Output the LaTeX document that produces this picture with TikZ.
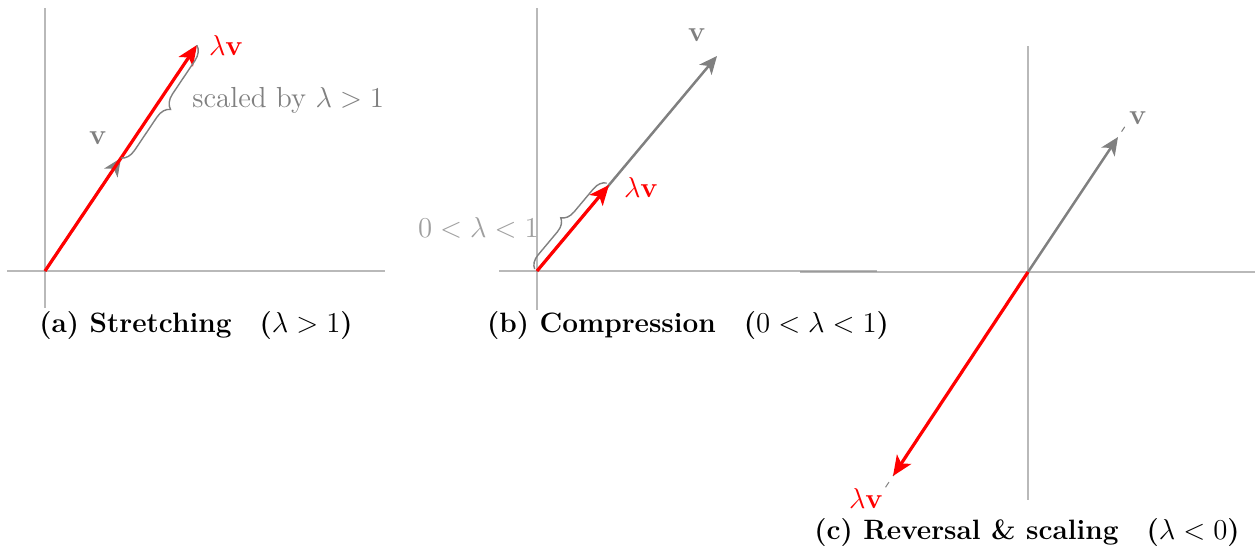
\documentclass[tikz,border=0pt]{standalone}
\usetikzlibrary{arrows.meta,decorations.pathreplacing,calc}
\begin{document}
\begin{tikzpicture}[x=0.5pt,y=-0.5pt,
  axis/.style={draw=gray,opacity=0.55,line width=0.7pt},
  redvec/.style={draw=red,line width=1.6pt,-{Stealth[length=10pt,width=8.5pt,inset=2.5pt]}},
  grayvec/.style={draw=gray,line width=1.25pt,-{Stealth[length=9pt,width=8pt,inset=2.5pt]}},
  bracestyle/.style={draw=gray,line width=0.7pt,decorate,decoration={brace,amplitude=6pt}},
  lbl/.style={font=\fontsize{14.5}{17}\selectfont,inner sep=1pt},
  captext/.style={font=\fontsize{14}{17}\selectfont\bfseries,inner sep=1pt}]
\useasboundingbox (0,0) rectangle (1255,553);
% ---------- (a)
\coordinate (Oa) at (45,271);
\coordinate (va) at (121,158);
\coordinate (la) at (197,45);
\coordinate (axL) at (7,271); \coordinate (axR) at (385,271);
\coordinate (ayT) at (45,8); \coordinate (ayB) at (45,308);
\draw[axis] (axL) -- (axR);
\draw[axis] (ayT) -- (ayB);
\draw[grayvec] (Oa) -- (va);
\draw[redvec] (Oa) -- (la);
\draw[bracestyle,decoration={mirror,amplitude=7pt}] (va) -- (la);
\node[lbl,text=gray] (tva) at (98,138) {$\mathbf{v}$};
\node[lbl,text=red] (tla) at (226,45) {$\lambda\mathbf{v}$};
\node[lbl,text=gray,anchor=west] (tsa) at (190,100) {scaled by $\lambda>1$};
\node[captext] (capa) at (196,326) {(a) Stretching\quad ($\lambda>1$)};
% ---------- (b)
\coordinate (Ob) at (537,271);
\coordinate (vb) at (717,56);
\coordinate (lb) at (609,185);
\coordinate (bxL) at (499,271); \coordinate (bxR) at (877,271);
\coordinate (byT) at (537,8); \coordinate (byB) at (537,310);
\draw[axis] (bxL) -- (bxR);
\draw[axis] (byT) -- (byB);
\draw[grayvec] (Ob) -- (vb);
\draw[redvec] (Ob) -- (lb);
\draw[bracestyle,decoration={raise=1.5pt,amplitude=6.5pt}] (Ob) -- (lb);
\node[lbl,text=gray] (tvb) at (697,35) {$\mathbf{v}$};
\node[lbl,text=red] (tlb) at (641,187) {$\lambda\mathbf{v}$};
\node[lbl,text=gray!75,anchor=east] (tsb) at (541,228) {$0<\lambda<1$};
\node[captext] (capb) at (688,326) {(b) Compression\quad ($0<\lambda<1$)};
% ---------- (c)
\coordinate (Oc) at (1028,272);
\coordinate (vc) at (1118,137);
\coordinate (lc) at (893,476);
\coordinate (cxL) at (800,272); \coordinate (cxR) at (1255,272);
\coordinate (cyT) at (1028,46); \coordinate (cyB) at (1028,500);
\draw[axis] (cxL) -- (cxR);
\draw[axis] (cyT) -- (cyB);
\draw[gray,line width=0.6pt] (Oc) -- (lc);
\draw[gray,line width=0.5pt] ($(Oc)!1.04!(vc)$) -- ($(Oc)!1.075!(vc)$);
\draw[gray,line width=0.5pt] ($(Oc)!1.03!(lc)$) -- ($(Oc)!1.055!(lc)$);
\draw[grayvec] (Oc) -- (vc);
\draw[redvec] (Oc) -- (lc);
\node[lbl,text=gray] (tvc) at (1138,118) {$\mathbf{v}$};
\node[lbl,text=red] (tlc) at (866,498) {$\lambda\mathbf{v}$};
\node[captext] (capc) at (1027,533) {(c) Reversal \& scaling\quad ($\lambda<0$)};
\end{tikzpicture}
\end{document}
